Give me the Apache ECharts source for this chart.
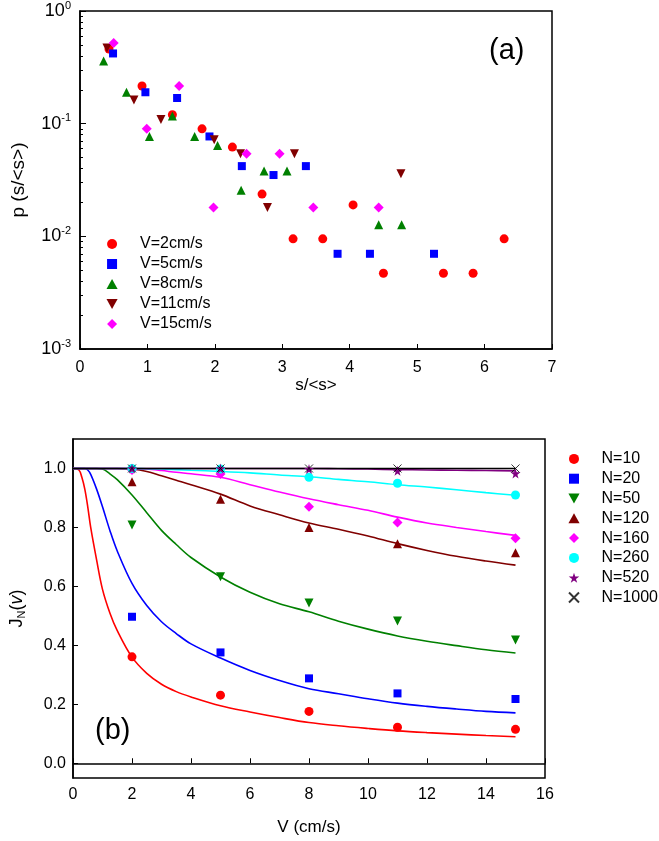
<!DOCTYPE html>
<html>
<head>
<meta charset="utf-8">
<script src="https://cdn.jsdelivr.net/npm/echarts@6/dist/echarts.min.js"></script>
<style>
  html, body { margin: 0; padding: 0; background: #fff; }
  #chart { width: 659px; height: 841px; }
</style>
</head>
<body>
<div id="chart"></div>
<script>
// ---- panel (a): p(s/<s>) for each speed ----
const legendA = ['V=2cm/s', 'V=5cm/s', 'V=8cm/s', 'V=11cm/s', 'V=15cm/s'];
const sV2 = [0.43, 0.92, 1.37, 1.81, 2.26, 2.70, 3.16, 3.60, 4.05, 4.50, 5.39, 5.83, 6.29];
const pV2 = [0.46, 0.216, 0.12, 0.090, 0.062, 0.0237, 0.0095, 0.0095, 0.019, 0.0047, 0.0047, 0.0047, 0.0095];
const sV5 = [0.49, 0.97, 1.44, 1.92, 2.40, 2.87, 3.35, 3.82, 4.30, 5.25];
const pV5 = [0.42, 0.19, 0.169, 0.077, 0.042, 0.035, 0.042, 0.0070, 0.0070, 0.0070];
const sV8 = [0.35, 0.69, 1.03, 1.37, 1.70, 2.04, 2.39, 2.73, 3.07, 4.43, 4.77];
const pV8 = [0.36, 0.19, 0.077, 0.117, 0.077, 0.064, 0.0257, 0.038, 0.038, 0.0127, 0.0127];
const sV11 = [0.40, 0.80, 1.20, 1.99, 2.38, 2.78, 3.18, 4.76];
const pV11 = [0.47, 0.162, 0.109, 0.072, 0.054, 0.018, 0.054, 0.036];
const sV15 = [0.50, 0.99, 1.47, 1.98, 2.47, 2.96, 3.46, 4.43];
const pV15 = [0.52, 0.090, 0.216, 0.018, 0.054, 0.054, 0.018, 0.018];
const minorTicksA = [0.002, 0.003, 0.004, 0.005, 0.006, 0.007, 0.008, 0.009,
  0.02, 0.03, 0.04, 0.05, 0.06, 0.07, 0.08, 0.09,
  0.2, 0.3, 0.4, 0.5, 0.6, 0.7, 0.8, 0.9];

// ---- panel (b): J_N(v), measured points ----
const legendB = ['N=10', 'N=20', 'N=50', 'N=120', 'N=160', 'N=260', 'N=520', 'N=1000'];
const vPts = [2, 5, 8, 11, 15];
const jN10 = [0.361, 0.231, 0.176, 0.122, 0.115];
const jN20 = [0.497, 0.376, 0.288, 0.237, 0.218];
const jN50 = [0.808, 0.633, 0.544, 0.483, 0.418];
const jN120 = [0.955, 0.896, 0.800, 0.745, 0.714];
const jN160 = [0.995, 0.981, 0.870, 0.817, 0.763];
const jN260 = [1.0, 0.998, 0.970, 0.950, 0.910];
const jN520 = [1.0, 1.0, 0.998, 0.992, 0.983];
const jN1000 = [1.0, 1.0, 1.0, 1.0, 1.0];

// ---- panel (b): fitted curves ----
const vFit = [0, 0.2, 0.3, 0.4, 0.5, 0.6, 0.8, 1, 1.25, 1.5, 2, 2.5, 3, 3.5, 4, 5, 6, 7, 8, 9, 10, 11, 12, 13, 14, 15];
const fitN10 = [1, 0.995, 0.97, 0.93, 0.87, 0.80, 0.69, 0.59, 0.51, 0.45, 0.36, 0.305, 0.268, 0.243, 0.225, 0.195, 0.174, 0.155, 0.138, 0.127, 0.118, 0.110, 0.104, 0.099, 0.094, 0.090];
const fitN20 = [1, 1, 1, 1, 0.995, 0.98, 0.93, 0.87, 0.79, 0.72, 0.61, 0.535, 0.48, 0.44, 0.405, 0.357, 0.315, 0.281, 0.253, 0.236, 0.219, 0.204, 0.193, 0.184, 0.176, 0.171];
const fitN50 = [1, 1, 1, 1, 1, 1, 1, 0.998, 0.982, 0.962, 0.91, 0.85, 0.79, 0.742, 0.698, 0.632, 0.58, 0.541, 0.514, 0.482, 0.455, 0.432, 0.414, 0.399, 0.385, 0.374];
const fitN120 = [1, 1, 1, 1, 1, 1, 1, 1, 1, 1, 0.998, 0.99, 0.975, 0.96, 0.945, 0.913, 0.873, 0.843, 0.815, 0.794, 0.771, 0.745, 0.722, 0.702, 0.686, 0.672];
const fitN160 = [1, 1, 1, 1, 1, 1, 1, 1, 1, 1, 1, 0.998, 0.993, 0.987, 0.982, 0.97, 0.945, 0.92, 0.897, 0.877, 0.858, 0.835, 0.815, 0.80, 0.786, 0.773];
const fitN260 = [1, 1, 1, 1, 1, 1, 1, 1, 1, 1, 1, 0.999, 0.998, 0.996, 0.994, 0.99, 0.985, 0.978, 0.972, 0.963, 0.955, 0.945, 0.937, 0.928, 0.918, 0.909];
const fitN520 = [1, 1, 1, 1, 1, 1, 1, 1, 1, 1, 1, 1, 1, 1, 1, 1, 1, 1, 1, 0.999, 0.998, 0.996, 0.995, 0.994, 0.993, 0.992];
const fitN1000 = [1, 1, 1, 1, 1, 1, 1, 1, 1, 1, 1, 1, 1, 1, 1, 1, 1, 1, 1, 1, 1, 1, 1, 1, 1, 1];
const yTicksB = [0, 0.2, 0.4, 0.6, 0.8, 1.0];

const FONT = '"Liberation Sans", Arial, sans-serif';
// path symbols keep their aspect inside the legend too
const square = 'path://M0,0L10,0L10,10L0,10Z';
const upTri = 'path://M5,0L10,9L0,9Z';
const invTri = 'path://M0,0L10,0L5,9Z';
const diamond = 'path://M5,0L10,5L5,10L0,5Z';
const star = 'path://M50,0L61,35L98,35L68,57L79,91L50,70L21,91L32,57L2,35L39,35Z';
const cross = 'path://M0,0L10,10M10,0L0,10';

function pairs(xs, ys) {
  return xs.map((x, i) => [x, ys[i]]);
}

function scatterA(name, xs, ys, symbol, size, color) {
  return {
    name: name, type: 'scatter', xAxisIndex: 0, yAxisIndex: 0,
    symbol: symbol, symbolSize: size,
    itemStyle: { color: color, opacity: 1 },
    data: pairs(xs, ys), z: 3
  };
}

function scatterB(name, ys, symbol, size, color, stroke) {
  let s = {
    name: name, type: 'scatter', xAxisIndex: 1, yAxisIndex: 2,
    symbol: symbol, symbolSize: size,
    itemStyle: { color: color, opacity: 1 },
    data: pairs(vPts, ys), z: 4
  };
  if (stroke) {
    s.itemStyle = { color: 'rgba(0,0,0,0)', borderColor: color, borderWidth: 1 };
  }
  return s;
}

function curveB(ys, color) {
  return {
    type: 'line', xAxisIndex: 1, yAxisIndex: 2,
    data: pairs(vFit, ys), showSymbol: false, symbol: 'none',
    smooth: 0.35,
    lineStyle: { color: color, width: 1.6 },
    silent: true, z: 2
  };
}

function supExp(v) {
  return '{b|10}{sup|' + Math.round(Math.log10(v)) + '}';
}

const chart = echarts.init(document.getElementById('chart'), null, { renderer: 'canvas' });

const option = {
  backgroundColor: '#fff',
  animation: false,
  textStyle: { fontFamily: FONT },
  grid: [
    { left: 80, top: 11, width: 472, height: 338, show: true, borderColor: '#000', borderWidth: 1.5, backgroundColor: 'transparent' },
    { left: 73, top: 439, width: 472, height: 339, show: true, borderColor: '#000', borderWidth: 1.5, backgroundColor: 'transparent' }
  ],
  legend: [
    {
      data: legendA, orient: 'vertical', left: 101.5, top: 229,
      itemWidth: 46, itemHeight: 10, itemGap: 0,
      textStyle: { fontSize: 16, color: '#000', lineHeight: 20, fontFamily: FONT },
      selectedMode: false
    },
    {
      data: legendB, orient: 'vertical', left: 563, top: 444,
      itemWidth: 45, itemHeight: 10, itemGap: 0,
      textStyle: { fontSize: 16, color: '#000', lineHeight: 19.8, fontFamily: FONT },
      selectedMode: false
    }
  ],
  xAxis: [
    {
      gridIndex: 0, type: 'value', min: 0, max: 7, interval: 1,
      name: 's/<s>', nameLocation: 'middle', nameGap: 27,
      nameTextStyle: { fontSize: 17, color: '#000', fontFamily: FONT },
      axisLine: { lineStyle: { color: '#000', width: 1.5 } },
      axisTick: { inside: true, length: 5, lineStyle: { color: '#000' } },
      axisLabel: { fontSize: 16, color: '#000', margin: 11, fontFamily: FONT },
      splitLine: { show: false }
    },
    {
      gridIndex: 1, type: 'value', min: 0, max: 16, interval: 2,
      name: 'V (cm/s)', nameLocation: 'middle', nameGap: 41,
      nameTextStyle: { fontSize: 17, color: '#000', fontFamily: FONT },
      axisLine: { lineStyle: { color: '#000', width: 1.5 } },
      axisTick: { inside: true, length: 5, lineStyle: { color: '#000' } },
      axisLabel: { fontSize: 16, color: '#000', margin: 9, fontFamily: FONT },
      splitLine: { show: false }
    }
  ],
  yAxis: [
    {
      gridIndex: 0, type: 'log', logBase: 10, min: 0.001, max: 1, position: 'left',
      name: 'p (s/<s>)', nameLocation: 'middle', nameGap: 52, nameRotate: 90,
      nameTextStyle: { fontSize: 19, color: '#000', fontFamily: FONT },
      axisLine: { show: true, lineStyle: { color: '#000', width: 1.5 } },
      axisTick: { inside: true, length: 6, lineStyle: { color: '#000' } },
      axisLabel: {
        color: '#000', margin: 9, fontFamily: FONT,
        formatter: supExp,
        rich: {
          b: { fontSize: 18, color: '#000', fontFamily: FONT },
          sup: { fontSize: 11, verticalAlign: 'top', padding: [0, 0, 11, 0], color: '#000', fontFamily: FONT }
        }
      },
      splitLine: { show: false }
    },
    {
      gridIndex: 0, type: 'log', logBase: 10, min: 0.001, max: 1, position: 'left', offset: 0,
      axisLine: { show: false },
      axisTick: { show: true, inside: true, length: 3, customValues: minorTicksA, lineStyle: { color: '#000' } },
      axisLabel: { show: false },
      splitLine: { show: false }
    },
    {
      gridIndex: 1, type: 'value', min: -0.05, max: 1.1,
      name: '{n|J}{sub|N}{n|(}{it|v}{n|)}', nameLocation: 'middle', nameGap: 46, nameRotate: 90,
      nameTextStyle: {
        color: '#000', fontFamily: FONT,
        rich: {
          n: { fontSize: 18, color: '#000', fontFamily: FONT },
          it: { fontSize: 18, color: '#000', fontStyle: 'italic', fontFamily: FONT },
          sub: { fontSize: 11, color: '#000', verticalAlign: 'bottom', padding: [9, 0, 0, 0], fontFamily: FONT }
        }
      },
      axisLine: { show: true, lineStyle: { color: '#000', width: 1.5 } },
      axisTick: { inside: true, length: 5, customValues: yTicksB, lineStyle: { color: '#000' } },
      axisLabel: {
        fontSize: 16, color: '#000', margin: 7, fontFamily: FONT,
        customValues: yTicksB,
        formatter: v => v.toFixed(1)
      },
      splitLine: { show: false }
    }
  ],
  graphic: [
    { type: 'text', left: 489, top: 36, style: { text: '(a)', fontSize: 29, fill: '#000', fontFamily: FONT } },
    { type: 'text', left: 95, top: 716, style: { text: '(b)', fontSize: 29, fill: '#000', fontFamily: FONT } }
  ],
  series: [
    scatterA(legendA[0], sV2, pV2, 'circle', 9, '#ff0000'),
    scatterA(legendA[1], sV5, pV5, square, 8, '#0000ff'),
    scatterA(legendA[2], sV8, pV8, upTri, 9, '#008000'),
    scatterA(legendA[3], sV11, pV11, invTri, 9, '#800000'),
    scatterA(legendA[4], sV15, pV15, diamond, 10, '#ff00ff'),

    curveB(fitN10, '#ff0000'),
    curveB(fitN20, '#0000ff'),
    curveB(fitN50, '#008000'),
    curveB(fitN120, '#800000'),
    curveB(fitN160, '#ff00ff'),
    curveB(fitN260, '#00ffff'),
    curveB(fitN520, '#800080'),
    curveB(fitN1000, '#000000'),

    scatterB(legendB[0], jN10, 'circle', 9, '#ff0000'),
    scatterB(legendB[1], jN20, square, 8, '#0000ff'),
    scatterB(legendB[2], jN50, invTri, 9, '#008000'),
    scatterB(legendB[3], jN120, upTri, 9, '#800000'),
    scatterB(legendB[4], jN160, diamond, 10, '#ff00ff'),
    scatterB(legendB[5], jN260, 'circle', 9, '#00ffff'),
    scatterB(legendB[6], jN520, star, 10, '#800080'),
    scatterB(legendB[7], jN1000, cross, 8, '#000000', true)
  ]
};

chart.setOption(option);
</script>
</body>
</html>
